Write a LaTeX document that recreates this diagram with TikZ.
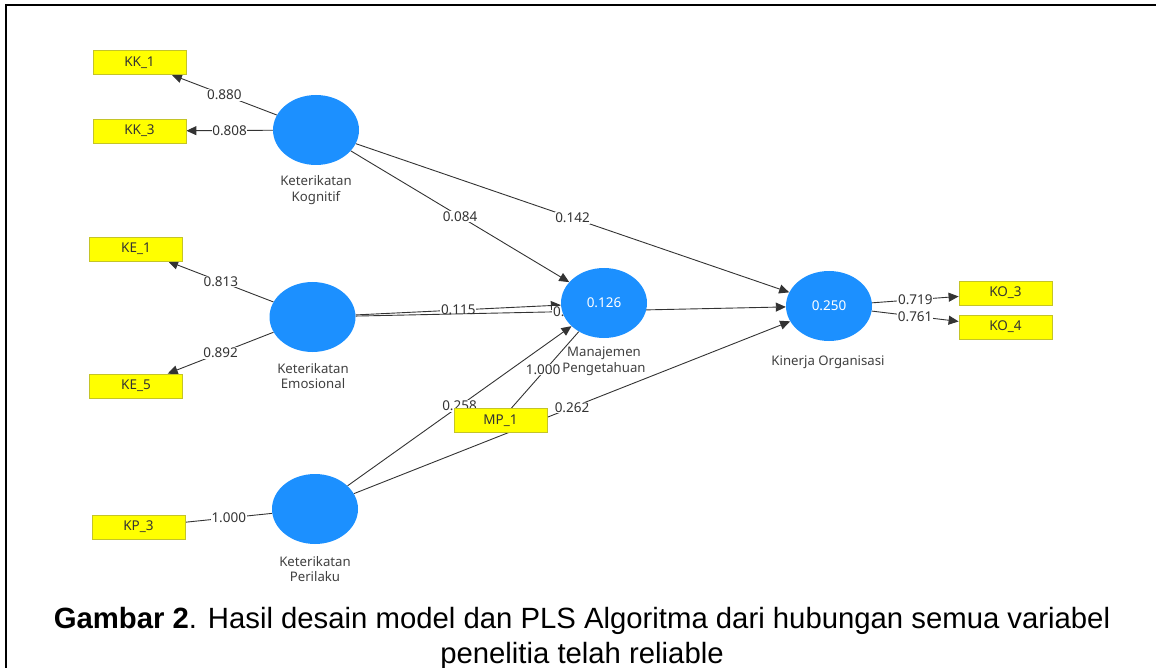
\documentclass[tikz,border=0pt]{standalone}
\usepackage{fontspec}
\setmainfont{Noto Sans}
\newfontfamily\capfont{Liberation Sans}
\usetikzlibrary{arrows.meta,shapes.geometric,backgrounds}

\definecolor{lvblue}{RGB}{28,144,255}
\definecolor{mvyellow}{RGB}{255,255,0}
\definecolor{mvborder}{RGB}{196,196,40}

\tikzset{
	lv/.style={ellipse, fill=lvblue, minimum width=86pt, minimum height=70pt, inner sep=0pt, text=white, font=\fontsize{13.5}{13.5}\selectfont},
	mv/.style={rectangle, fill=mvyellow, draw=mvborder, line width=0.8pt, minimum width=93pt, minimum height=24pt, inner sep=0pt, text=black!80, font=\fontsize{13.5}{13.5}\selectfont},
	lvname/.style={align=center, text=black!75, font=\fontsize{13.2}{15.5}\selectfont},
	link/.style={draw=black!80, line width=0.9pt},
	arr/.style={-{Triangle[length=10pt,width=9pt]}},
	coef/.style={fill=white, inner sep=0.6pt, text=black!80, font=\fontsize{13.5}{13.5}\selectfont}
}

\begin{document}
\begin{tikzpicture}[x=1pt,y=-1pt]
	\useasboundingbox (0,0) rectangle (1156,668);
	\draw[line width=2pt] (6,669) -- (6,5) -- (1157,5);
	% latent variables
	\node[lv] at (316,130) (kk) {};
	\node[lv] at (312.5,317) (ke) {};
	\node[lv] at (315,509) (kp) {};
	\node[lv] at (604,303) (mp) {0.126};
	\node[lv] at (829,306) (ko) {0.250};
	\node[lvname] at (316,190) (kkname) {Keterikatan\\Kognitif};
	\node[lvname] at (313,376) (kename) {Keterikatan\\Emosional};
	\node[lvname] at (315,569) (kpname) {Keterikatan\\Perilaku};
	\node[lvname] at (604,361) (mpname) {Manajemen\\Pengetahuan};
	\node[lvname] at (828,362) (koname) {Kinerja Organisasi};
	% indicators
	\foreach \nm/\txt/\x/\y in {kk1/KK\_1/139.5/62.5, kk3/KK\_3/139.5/131, ke1/KE\_1/136/249, ke5/KE\_5/136/386, kp3/KP\_3/138.5/527, mp1/MP\_1/500.5/420.5, ko3/KO\_3/1005.5/293, ko4/KO\_4/1005.5/327}
		\node[mv] at (\x,\y) (\nm) {\txt};
	\begin{pgfonlayer}{background}
		\foreach \a/\b/\v in {kk/kk1/0.880, kk/kk3/0.808, ke/ke1/0.813, ke/ke5/0.892, kk/mp/0.084, kk/ko/0.142, ke/mp/0.115, kp/mp/0.258, kp/ko/0.262, ko/ko3/0.719, ko/ko4/0.761}
			\draw[link,arr] (\a) -- node[coef] {\v} (\b);
		\draw[link] (kp3) -- node[coef] {1.000} (kp);
		\draw[link] (mp) -- node[coef,xshift=-2pt] {1.000} (mp1);
		\draw[link,arr] (ke) -- node[coef,xshift=-12pt] {0.} (ko);
	\end{pgfonlayer}
	% caption
	\node[align=center, font=\capfont\fontsize{29.3}{35}\selectfont] at (582,638) (caption) {\textbf{Gambar 2}. Hasil desain model dan PLS Algoritma dari hubungan semua variabel\\penelitia telah reliable};
\end{tikzpicture}
\end{document}
